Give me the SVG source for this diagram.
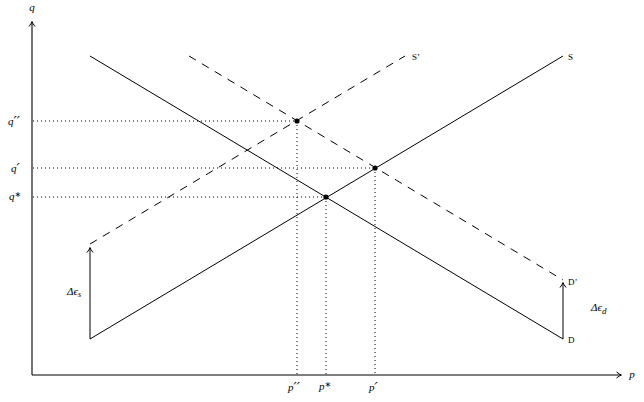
<svg xmlns="http://www.w3.org/2000/svg" width="644" height="402" viewBox="0 0 644 402">
<defs>
<marker id="ah" viewBox="-6 -4 8 8" refX="0" refY="0" markerWidth="8" markerHeight="8" markerUnits="userSpaceOnUse" orient="auto">
<path d="M-4.5,-3 Q-1.5,-0.6 0.5,0 Q-1.5,0.6 -4.5,3" fill="none" stroke="#000" stroke-width="1"/>
</marker>
</defs>
<style>
.ax{stroke:#000;stroke-width:1.1;fill:none}
.ln{stroke:#000;stroke-width:1;fill:none}
.da{stroke:#000;stroke-width:1;fill:none;stroke-dasharray:8 7}
.dt{stroke:#000;stroke-width:1;fill:none;stroke-dasharray:1 3}
.m{font-family:"Liberation Serif","DejaVu Serif",serif;font-style:italic;font-size:11px;fill:#000}
.s{font-family:"DejaVu Serif",serif;font-size:14px;font-style:italic}
.st{font-family:"DejaVu Sans",sans-serif;font-size:8px;font-style:normal}
.l{font-family:"Liberation Serif","DejaVu Serif",serif;font-size:9px;fill:#000}
</style>
<rect width="644" height="402" fill="#fff"/>
<g id="connectors">
<line class="dt" x1="33" y1="121" x2="297" y2="121"/>
<line class="dt" x1="33" y1="168" x2="375" y2="168"/>
<line class="dt" x1="33" y1="197" x2="326" y2="197"/>
<line class="dt" x1="297" y1="121" x2="297" y2="374"/>
<line class="dt" x1="375" y1="168" x2="375" y2="374"/>
<line class="dt" x1="326" y1="197" x2="326" y2="374"/>
<line class="ln" x1="90" y1="56" x2="563" y2="339"/>
<line class="ln" x1="90" y1="339" x2="563" y2="56"/>
<line class="da" x1="90" y1="244" x2="405" y2="56"/>
<line class="da" x1="189" y1="56" x2="563" y2="280"/>
<line class="ln" x1="90" y1="339" x2="90" y2="248" marker-end="url(#ah)"/>
<line class="ln" x1="563" y1="339" x2="563" y2="283" marker-end="url(#ah)"/>
</g>
<g id="axes">
<line class="ax" x1="32" y1="375" x2="32" y2="22" marker-end="url(#ah)"/>
<line class="ax" x1="32" y1="375" x2="621" y2="375" marker-end="url(#ah)"/>
<text class="m" x="32" y="11" text-anchor="middle" font-size="9">q</text>
<text class="m" x="632" y="378" text-anchor="middle" font-size="9">p</text>
</g>
<g id="points">
<circle cx="297" cy="121" r="2.6"/>
<circle cx="375" cy="168" r="2.6"/>
<circle cx="326" cy="197" r="2.6"/>
</g>
<g id="ylabels">
<text class="m" x="8" y="125">q<tspan class="s" dy="2">′′</tspan></text>
<text class="m" x="11" y="172">q<tspan class="s" dy="2">′</tspan></text>
<text class="m" x="9" y="200">q<tspan class="st" dy="-3">∗</tspan></text>
</g>
<g id="xlabels">
<text class="m" x="288" y="391">p<tspan class="s" dy="2">′′</tspan></text>
<text class="m" x="319" y="390">p<tspan class="st" dy="-3">∗</tspan></text>
<text class="m" x="369" y="391">p<tspan class="s" dy="2">′</tspan></text>
</g>
<g id="curvelabels">
<text class="l" x="568" y="60">S</text>
<text class="l" x="412" y="60">S’</text>
<text class="l" x="568" y="285">D’</text>
<text class="l" x="568" y="343">D</text>
</g>
<g id="deltas">
<text class="m" x="67" y="295" font-style="normal">Δ<tspan font-style="italic">ϵ</tspan><tspan font-style="italic" font-size="8" dy="2">s</tspan></text>
<text class="m" x="591" y="311" font-style="normal">Δ<tspan font-style="italic">ϵ</tspan><tspan font-style="italic" font-size="9" dy="3">d</tspan></text>
</g>
</svg>
